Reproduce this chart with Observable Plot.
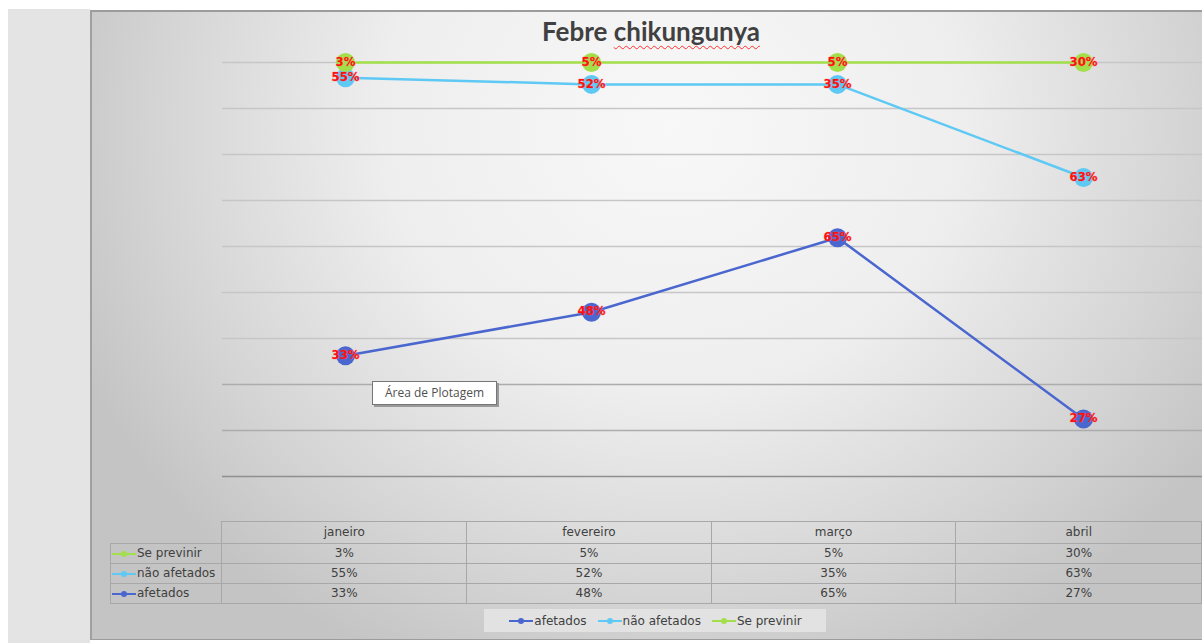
<!DOCTYPE html>
<html>
<head>
<meta charset="utf-8">
<script src="https://cdn.jsdelivr.net/npm/d3@7"></script>
<script src="https://cdn.jsdelivr.net/npm/@observablehq/plot@0.6"></script>
<style>
  html, body { margin:0; padding:0; background:#fff; width:1202px; height:643px; overflow:hidden; }
  #leftpanel { position:absolute; left:8px; top:9px; width:82px; height:634px; background:#e4e4e4; }
  #chartbg { position:absolute; left:90px; top:10px; width:1116px; height:627px;
    border-top:2px solid #9c9c9c; border-left:2px solid #a0a0a0; border-bottom:1px solid #9c9c9c;
    background: radial-gradient(ellipse 58% 95% at 52% 18%, #f8f8f8 0%, #eeeeee 45%, #d4d4d4 80%, #c4c4c4 100%); }
  #plot { position:absolute; left:0; top:0; }
  #title { position:absolute; left:451px; top:15px; width:400px; text-align:center;
    font-family:"Lato","Open Sans",sans-serif; font-weight:bold; font-size:26px; color:#404040; }
  #title .sq { text-decoration: underline wavy #ff3030; text-decoration-thickness:1px; text-underline-offset:4px; text-decoration-skip-ink:none; }
  table#dt { position:absolute; left:110px; top:521px; border-collapse:collapse;
    font-family:"DejaVu Sans","Open Sans",sans-serif; font-size:12px; color:#404040; }
  #dt td { border:1px solid #a8a8a8; text-align:center; padding:0; height:19px; line-height:19px; }
  #dt tr.hdr td { height:21px; line-height:21px; }
  #dt td.blank { border:none; }
  #dt td.rh { text-align:left; white-space:nowrap; }
  #legend { position:absolute; left:484px; top:609px; width:342px; height:23px; background:#e2e2e2;
    font-family:"DejaVu Sans","Open Sans",sans-serif; font-size:12px; color:#404040;
    display:flex; align-items:center; justify-content:center; gap:10px; }
  #legend span.it { display:flex; align-items:center; }
  #tip { position:absolute; left:372px; top:381px; width:123px; height:22px; background:#fff;
    border:1px solid #767676; box-shadow:2px 2px 0 #9a9a9a;
    font-family:"Open Sans","DejaVu Sans",sans-serif; font-size:12px; color:#505050; line-height:22px; text-align:center; }
  svg.key { vertical-align:middle; }
</style>
</head>
<body>
<div id="leftpanel"></div>
<div id="chartbg"></div>
<div id="plot"></div>
<div id="title">Febre <span class="sq">chikungunya</span></div>
<table id="dt"></table>
<div id="legend"></div>
<div id="tip">Área de Plotagem</div>
<script>
// ---- data ----
const months = ["janeiro", "fevereiro", "março", "abril"];
const afetados = [33, 48, 65, 27];
const naoAfetados = [55, 52, 35, 63];
const sePrevinir = [3, 5, 5, 30];
const seriesNames = ["afetados", "não afetados", "Se previnir"];
const seriesColors = ["#4a66cf", "#5ec9f4", "#a3df4a"];
const gridTicks = [0.1, 0.2, 0.3, 0.4, 0.5, 0.6, 0.7, 0.8, 0.9, 1.0];

// 100% stacked line (Excel style): cumulative share per month
const seriesValues = [afetados, naoAfetados, sePrevinir];
const rows = [];
months.forEach((m, i) => {
  const total = seriesValues.reduce((s, arr) => s + arr[i], 0);
  let cum = 0;
  seriesValues.forEach((arr, k) => {
    cum += arr[i];
    rows.push({month: m, series: seriesNames[k], value: arr[i], share: cum / total});
  });
});

const colorOf = Object.fromEntries(seriesNames.map((s, k) => [s, seriesColors[k]]));

const chart = Plot.plot({
  width: 1202,
  height: 643,
  marginLeft: 222, marginRight: 0, marginTop: 0, marginBottom: 0,
  style: {background: "transparent", overflow: "visible"},
  x: {type: "point", domain: months, range: [345, 1083], padding: 0, axis: null},
  y: {domain: [0, 1], range: [522, 62], axis: null},
  marks: [
    Plot.ruleY(gridTicks, {y: d => d, stroke: d => d <= 0.1 ? "#8f8f8f" : (d <= 0.3 ? "#acacac" : "#c6c6c6"), strokeWidth: 1.5}),
    Plot.line(rows, {x: "month", y: "share", z: "series", stroke: d => colorOf[d.series], strokeWidth: 2.5}),
    Plot.dot(rows, {x: "month", y: "share", r: 9.5, fill: d => colorOf[d.series], stroke: "none"}),
    Plot.text(rows, {x: "month", y: "share", text: d => d.value + "%", fill: "#ff1010",
      fontSize: 13, fontWeight: "bold",
      fontFamily: "'DejaVu Sans Condensed','Liberation Sans Narrow','DejaVu Sans',sans-serif",
      stroke: "rgba(255,120,120,0.35)", strokeWidth: 1.2, dy: -1})
  ]
});
chart.style.fontStretch = "condensed";
document.getElementById("plot").appendChild(chart);

// ---- legend keys ----
function key(color) {
  return `<svg class="key" width="26" height="10"><line x1="1" y1="5" x2="25" y2="5" stroke="${color}" stroke-width="2"/><circle cx="13" cy="5" r="3" fill="${color}"/></svg>`;
}

// ---- data table ----
const tbl = document.getElementById("dt");
let html = `<tr class="hdr"><td class="blank" style="width:111px"></td>` +
  months.map((m, i) => `<td style="width:${i === 3 ? 246 : 245}px">${m}</td>`).join("") + `</tr>`;
[2, 1, 0].forEach(k => {
  html += `<tr><td class="rh">${key(seriesColors[k])}${seriesNames[k]}</td>` +
    seriesValues[k].map(v => `<td>${v}%</td>`).join("") + `</tr>`;
});
tbl.innerHTML = html;

// ---- legend ----
document.getElementById("legend").innerHTML = seriesNames.map((s, k) =>
  `<span class="it">${key(seriesColors[k])}${s}</span>`).join("");
</script>
</body>
</html>
